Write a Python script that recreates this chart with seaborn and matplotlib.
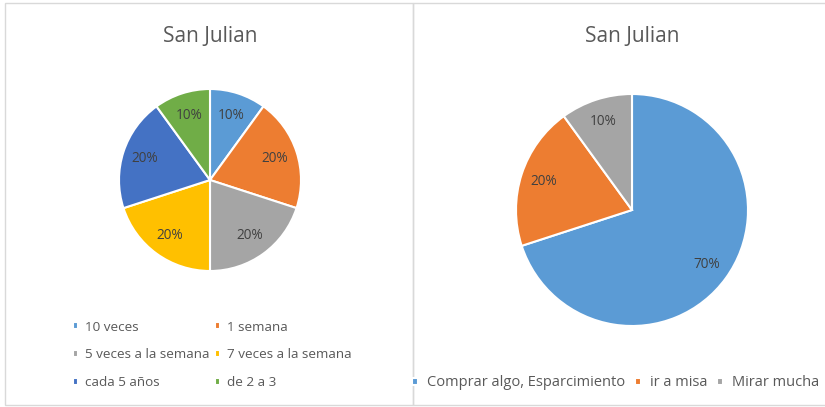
import matplotlib
matplotlib.use("Agg")
import matplotlib.pyplot as plt
from matplotlib.patches import Rectangle
import seaborn as sns

# left chart: frequency
freq_labels = ["10 veces", "1 semana", "5 veces a la semana",
               "7 veces a la semana", "cada 5 años", "de 2 a 3"]
freq_values = [10, 20, 20, 20, 20, 10]
freq_colors = ["#5B9BD5", "#ED7D31", "#A5A5A5", "#FFC000", "#4472C4", "#70AD47"]

# right chart: reason
reason_labels = ["Comprar algo, Esparcimiento", "ir a misa", "Mirar mucha"]
reason_values = [70, 20, 10]
reason_colors = ["#5B9BD5", "#ED7D31", "#A5A5A5"]

title = "San Julian"

sns.set_style("white")
plt.rcParams["font.family"] = ["Open Sans", "DejaVu Sans"]

W, H = 825, 407
fig = plt.figure(figsize=(W / 100, H / 100), dpi=100)
fig.patch.set_facecolor("white")

# panel frames
fig.patches.append(Rectangle((5 / W, 2 / H), 408 / W, 402 / H, transform=fig.transFigure,
                             fill=False, edgecolor="#D9D9D9", linewidth=1))
fig.patches.append(Rectangle((413 / W, 2 / H), 420 / W, 402 / H, transform=fig.transFigure,
                             fill=False, edgecolor="#D9D9D9", linewidth=1))

text_col = "#595959"
lbl_col = "#404040"


def pie_axes(cx, cy, r):
    return fig.add_axes([(cx - r) / W, (H - cy - r) / H, 2 * r / W, 2 * r / H])


def finish(ax):
    ax.set_aspect("auto")
    ax.set_xlim(-1, 1)
    ax.set_ylim(-1, 1)
    ax.axis("off")


# left pie
ax1 = pie_axes(210, 180, 91)
w1, t1, a1 = ax1.pie(freq_values, colors=freq_colors, startangle=90, counterclock=False,
                     autopct="%d%%", pctdistance=0.75, radius=1,
                     wedgeprops=dict(edgecolor="white", linewidth=1.5),
                     textprops=dict(color=lbl_col, fontsize=9.8))
finish(ax1)
fig.text(210 / W, 1 - 36 / H, title, ha="center", va="center", fontsize=15, color=text_col)

order = [0, 2, 4, 1, 3, 5]
fig.legend([w1[i] for i in order], [freq_labels[i] for i in order],
           loc="center left", bbox_to_anchor=(73 / W, 1 - 355 / H), ncol=2,
           frameon=False, fontsize=9.7, labelcolor=text_col,
           handlelength=0.4, handleheight=0.4, handletextpad=0.5,
           labelspacing=1.1, columnspacing=0.4, borderpad=0, borderaxespad=0)

# right pie
ax2 = pie_axes(632, 210, 116)
w2, t2, a2 = ax2.pie(reason_values, colors=reason_colors, startangle=90, counterclock=False,
                     autopct="%d%%", pctdistance=0.8, radius=1,
                     wedgeprops=dict(edgecolor="white", linewidth=1.5),
                     textprops=dict(color=lbl_col, fontsize=9.8))
finish(ax2)
fig.text(632 / W, 1 - 36 / H, title, ha="center", va="center", fontsize=15, color=text_col)

fig.legend(w2, reason_labels, loc="center left", bbox_to_anchor=(412 / W, 1 - 383 / H),
           ncol=3, frameon=False, fontsize=10.5, labelcolor=text_col,
           handlelength=0.4, handleheight=0.4, handletextpad=0.6,
           columnspacing=0.7, borderpad=0, borderaxespad=0)

fig.savefig("out.png", dpi=100)
